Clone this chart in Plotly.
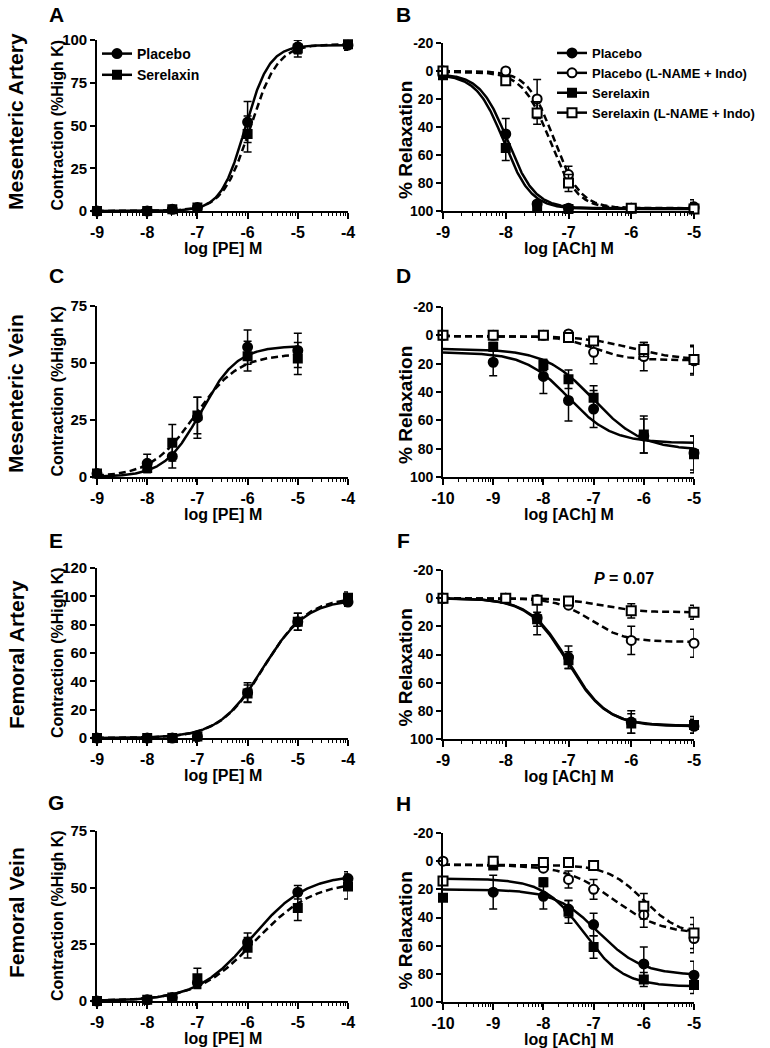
import numpy as np
import plotly.graph_objects as go

FONT = "Liberation Sans, Arial, Helvetica, sans-serif"
W, H = 770, 1048

# ---------------- data ----------------
# Panel A : Mesenteric artery, PE contraction (%High K)
A_x = [-9, -8, -7.5, -7, -6, -5, -4]
A_plc = [0, 0, 1, 2, 52, 96, 97]
A_plc_err = [0, 0, 0.5, 1, 12, 4, 3]
A_ser = [0, 0, 1, 2, 45, 95, 97.5]
A_ser_err = [0, 0, 0.5, 1, 10.5, 5, 3.5]
# fit parameters: bottom, top, logEC50, Hill slope
A_fit_plc = [0, 97, -6.05, 1.8]
A_fit_ser = [0, 97.5, -5.95, 1.6]

# Panel B : Mesenteric artery, ACh relaxation
B_x = [-9, -8, -7.5, -7, -6, -5]
B_plc = [2, 45, 95, 98, 98, 97]
B_plc_err = [1, 11, 2, 1, 1, 5]
B_plcL = [0, 0, 20, 74, 98, 98]
B_plcL_err = [1, 1, 14, 6, 1, 4]
B_ser = [3, 55, 97, 98.5, 98, 98.5]
B_ser_err = [1, 9, 1, 1, 1, 3]
B_serL = [0, 7, 30, 80, 98, 98.5]
B_serL_err = [1, 2, 8, 6, 1, 3]
B_fit_plc = [2, 98, -7.97, 2.0]
B_fit_ser = [2.5, 98.5, -8.03, 2.0]
B_fit_plcL = [0, 98, -7.23, 2.1]
B_fit_serL = [0.5, 98.5, -7.3, 2.0]

# Panel C : Mesenteric vein, PE
C_x = [-9, -8, -7.5, -7, -6, -5]
C_plc = [1.5, 6, 9, 26, 57, 55.5]
C_plc_err = [0.5, 4, 5, 9, 7.5, 7.5]
C_ser = [1.5, 4, 15, 27, 53, 52]
C_ser_err = [0.5, 2, 8, 8, 6.5, 7]
C_fit_plc = [0, 57.5, -6.93, 1.2]
C_fit_ser = [0, 54, -7.05, 1.0]

# Panel D : Mesenteric vein, ACh
D_x = [-10, -9, -8, -7.5, -7, -6, -5]
D_plc = [None, 19, 29, 46, 52, 71, 83]
D_plc_err = [None, 9.5, 12, 14.5, 13, 12, 12]
D_plcL = [0, 0, 0, -1, 12, 15, 18]
D_plcL_err = [1, 1, 1, 2, 8, 10, 10]
D_ser = [None, 8, 21, 31, 44, 70, 84]
D_ser_err = [None, 3, 4, 6.5, 8.5, 13, 13]
D_serL = [0, 0, 0, 1.5, 4, 10, 17]
D_serL_err = [1, 1, 1, 1, 2, 5, 10]
D_fit_plc = [12, 76, -7.5, 1.0]
D_fit_ser = [9.5, 81, -7.0, 0.9]
D_fit_plcL = [0.5, 17.5, -7.0, 1.3]
D_fit_serL = [0.5, 17.5, -6.25, 0.9]

# Panel E : Femoral artery, PE
E_x = [-9, -8, -7.5, -7, -6, -5, -4]
E_plc = [0, 0, 0, 1, 32, 82, 96]
E_plc_err = [0, 0, 0, 0.5, 7, 6, 3]
E_ser = [0, 0, 0, 1, 31.5, 82, 99]
E_ser_err = [0, 0, 0, 0.5, 6, 6, 4]
E_fit_plc = [0, 98, -5.7, 1.0]
E_fit_ser = [0, 99.5, -5.68, 1.0]

# Panel F : Femoral artery, ACh
F_x = [-9, -8, -7.5, -7, -6, -5]
F_plc = [0, 0, 14, 42, 88, 91]
F_plc_err = [0.5, 0.5, 12, 8, 8, 5]
F_plcL = [0, 0, 1, 5, 30, 32]
F_plcL_err = [0.5, 0.5, 1, 2, 10, 10]
F_ser = [0, 0, 15, 44, 89, 90]
F_ser_err = [0.5, 0.5, 5, 6, 7, 6]
F_serL = [0, 0, 1.5, 2, 9, 10]
F_serL_err = [0.5, 0.5, 1, 1, 5, 5]
F_fit_plc = [0, 91, -7.0, 1.4]
F_fit_ser = [0, 90.5, -7.02, 1.4]
F_fit_plcL = [0, 31, -6.65, 1.6]
F_fit_serL = [0, 10, -6.5, 1.5]

# Panel G : Femoral vein, PE
G_x = [-9, -8, -7.5, -7, -6, -5, -4]
G_plc = [0, 0.5, 1.5, 8, 26, 48, 54]
G_plc_err = [0.3, 0.3, 0.5, 2, 4, 3, 3]
G_ser = [0, 0.5, 1.5, 10, 23.5, 41, 50.5]
G_ser_err = [0.3, 0.3, 0.5, 4.5, 4.5, 5.5, 5.5]
G_fit_plc = [0, 56, -5.92, 0.8]
G_fit_ser = [0, 53, -5.85, 0.75]

# Panel H : Femoral vein, ACh
H_x = [-10, -9, -8, -7.5, -7, -6, -5]
H_plc = [None, 22, 25, 34, 45, 73, 81]
H_plc_err = [None, 12, 9, 6, 8, 12, 10]
H_plcL = [0, 1, 5, 13, 20, 38, 55]
H_plcL_err = [1, 1, 2, 6, 7, 9, 10]
H_ser = [26, 3, 15, 36, 61, 84, 88]
H_ser_err = [2, 1, 3, 8, 8, 5, 6]
H_serL = [14, 0, 1, 1, 3, 32, 51]
H_serL_err = [3, 1, 1, 1, 2, 9, 11]
H_fit_plc = [20, 81, -6.9, 1.0]
H_fit_ser = [12.5, 89, -7.2, 1.1]
H_fit_plcL = [2.5, 52, -6.6, 0.9]
H_fit_serL = [2.5, 53, -6.0, 1.2]

# axis ticks / labels
PE_xticks = [-9, -8, -7, -6, -5, -4]
ACh9_xticks = [-9, -8, -7, -6, -5]
ACh10_xticks = [-10, -9, -8, -7, -6, -5]
Y100_ticks = [0, 25, 50, 75, 100]
Y75_ticks = [0, 25, 50, 75]
Y120_ticks = [0, 20, 40, 60, 80, 100, 120]
REL_ticks = [-20, 0, 20, 40, 60, 80, 100]

row_labels = ["Mesenteric Artery", "Mesenteric Vein", "Femoral Artery", "Femoral Vein"]
legend_names = {"plc": "Placebo", "plcL": "Placebo (L-NAME + Indo)",
                "ser": "Serelaxin", "serL": "Serelaxin (L-NAME + Indo)"}

# ---------------- styling ----------------
STY = {
    "plc": dict(symbol="circle", size=9, color="black"),
    "ser": dict(symbol="square", size=8, color="black"),
    "plcL": dict(symbol="circle", size=9, color="white"),
    "serL": dict(symbol="square", size=9, color="white"),
}
LW = 2.5
DASH = "7px,4px"


def fx(px):
    return px / W


def fy(py):
    return 1 - py / H


# pixel layout: (left, right), (top, bottom)
LX = (97, 348)
RX = (443, 694)
panels = [
    dict(letter="A", x=A_x, xticks=PE_xticks, xr=(-9, -4), yr=(0, 100), yticks=Y100_ticks,
         series=[("plc", A_plc, A_plc_err, A_fit_plc, "solid"), ("ser", A_ser, A_ser_err, A_fit_ser, DASH)],
         px=LX, py=(40, 211), xt="log [PE] M", yt="Contraction (%High K)", crv=(-9, -4), ly=15),
    dict(letter="B", x=B_x, xticks=ACh9_xticks, xr=(-9, -5), yr=(100, -20), yticks=REL_ticks,
         series=[("plc", B_plc, B_plc_err, B_fit_plc, "solid"), ("ser", B_ser, B_ser_err, B_fit_ser, "solid"),
                 ("plcL", B_plcL, B_plcL_err, B_fit_plcL, DASH), ("serL", B_serL, B_serL_err, B_fit_serL, DASH)],
         px=RX, py=(43, 211), xt="log [ACh] M", yt="% Relaxation", crv=(-9, -5), ly=15),
    dict(letter="C", x=C_x, xticks=PE_xticks, xr=(-9, -4), yr=(0, 75), yticks=Y75_ticks,
         series=[("plc", C_plc, C_plc_err, C_fit_plc, "solid"), ("ser", C_ser, C_ser_err, C_fit_ser, DASH)],
         px=LX, py=(306, 477), xt="log [PE] M", yt="Contraction (%High K)", crv=(-9, -5), ly=276),
    dict(letter="D", x=D_x, xticks=ACh10_xticks, xr=(-10, -5), yr=(100, -20), yticks=REL_ticks,
         series=[("plc", D_plc, D_plc_err, D_fit_plc, "solid"), ("ser", D_ser, D_ser_err, D_fit_ser, "solid"),
                 ("plcL", D_plcL, D_plcL_err, D_fit_plcL, DASH), ("serL", D_serL, D_serL_err, D_fit_serL, DASH)],
         px=RX, py=(307, 477), xt="log [ACh] M", yt="% Relaxation", crv=(-10, -5), ly=276),
    dict(letter="E", x=E_x, xticks=PE_xticks, xr=(-9, -4), yr=(0, 120), yticks=Y120_ticks,
         series=[("plc", E_plc, E_plc_err, E_fit_plc, "solid"), ("ser", E_ser, E_ser_err, E_fit_ser, DASH)],
         px=LX, py=(568, 738), xt="log [PE] M", yt="Contraction (%High K)", crv=(-9, -4), ly=540),
    dict(letter="F", x=F_x, xticks=ACh9_xticks, xr=(-9, -5), yr=(100, -20), yticks=REL_ticks,
         series=[("plc", F_plc, F_plc_err, F_fit_plc, "solid"), ("ser", F_ser, F_ser_err, F_fit_ser, "solid"),
                 ("plcL", F_plcL, F_plcL_err, F_fit_plcL, DASH), ("serL", F_serL, F_serL_err, F_fit_serL, DASH)],
         px=RX, py=(570, 739), xt="log [ACh] M", yt="% Relaxation", crv=(-9, -5), ly=540),
    dict(letter="G", x=G_x, xticks=PE_xticks, xr=(-9, -4), yr=(0, 75), yticks=Y75_ticks,
         series=[("plc", G_plc, G_plc_err, G_fit_plc, "solid"), ("ser", G_ser, G_ser_err, G_fit_ser, DASH)],
         px=LX, py=(831, 1001), xt="log [PE] M", yt="Contraction (%High K)", crv=(-9, -4), ly=802),
    dict(letter="H", x=H_x, xticks=ACh10_xticks, xr=(-10, -5), yr=(100, -20), yticks=REL_ticks,
         series=[("plc", H_plc, H_plc_err, H_fit_plc, "solid"), ("ser", H_ser, H_ser_err, H_fit_ser, "solid"),
                 ("plcL", H_plcL, H_plcL_err, H_fit_plcL, DASH), ("serL", H_serL, H_serL_err, H_fit_serL, DASH)],
         px=RX, py=(833, 1002), xt="log [ACh] M", yt="% Relaxation", crv=(-10, -5), ly=803),
]


def hill_curve(lo, hi, p):
    xs = np.linspace(lo, hi, 400)
    b, t, ec, h = p
    return xs, b + (t - b) / (1 + 10 ** ((ec - xs) * h))


def minor_vals(lo, hi):
    vals = []
    for d in range(int(lo), int(hi)):
        for k in range(2, 10):
            vals.append(d + np.log10(k))
    return vals


fig = go.Figure()
annotations = []
layout_axes = {}

for i, p in enumerate(panels, start=1):
    xa, ya = f"x{i}", f"y{i}"
    for key, ys, errs, fit, dash in p["series"]:
        cx, cy = hill_curve(p["crv"][0], p["crv"][1], fit)
        fig.add_trace(go.Scatter(x=cx, y=cy, mode="lines", xaxis=xa, yaxis=ya, showlegend=False,
                                 line=dict(color="black", width=LW, dash=dash), hoverinfo="skip"))
    order = sorted(p["series"], key=lambda s: s[0].endswith("L"))
    for key, ys, errs, fit, dash in order:
        xx = [x for x, y in zip(p["x"], ys) if y is not None]
        yy = [y for y in ys if y is not None]
        ee = [e for e, y in zip(errs, ys) if y is not None]
        st = STY[key]
        fig.add_trace(go.Scatter(
            x=xx, y=yy, mode="markers", xaxis=xa, yaxis=ya, showlegend=False, cliponaxis=False,
            marker=dict(symbol=st["symbol"], size=st["size"], color=st["color"],
                        line=dict(color="black", width=2)),
            error_y=dict(type="data", array=ee, visible=True, color="black", thickness=1.5, width=4),
        ))
    suffix = "" if i == 1 else str(i)
    x0, x1 = p["px"]
    t0, b0 = p["py"]
    left = x0 < 200
    layout_axes["xaxis" + suffix] = dict(
        domain=[fx(x0), fx(x1)], range=list(p["xr"]), anchor=ya, automargin=False,
        tickmode="array", tickvals=p["xticks"], ticktext=[str(v) for v in p["xticks"]],
        showline=True, linecolor="black", linewidth=1.6, ticks="outside", ticklen=6, tickwidth=1.6,
        tickcolor="black", showgrid=False, zeroline=False,
        tickfont=dict(family=FONT, size=16, color="black", weight="bold"),
        minor=dict(tickmode="array", tickvals=minor_vals(p["xr"][0], p["xr"][1]), ticks="outside",
                   ticklen=3.5, tickwidth=1.2, tickcolor="black", showgrid=False),
    )
    layout_axes["yaxis" + suffix] = dict(
        domain=[fy(b0), fy(t0)], range=list(p["yr"]), anchor=xa, automargin=False,
        tickmode="array", tickvals=p["yticks"], ticktext=[str(v) for v in p["yticks"]],
        showline=True, linecolor="black", linewidth=1.6, ticks="outside", ticklen=5, tickwidth=1.6,
        tickcolor="black", showgrid=False, zeroline=False,
        tickfont=dict(family=FONT, size=15 if left else 14, color="black", weight="bold"),
    )
    annotations.append(dict(text=f"<b>{p['letter']}</b>", x=fx(56 if left else 404), y=fy(p["ly"]),
                            xref="paper", yref="paper", showarrow=False, xanchor="center", yanchor="middle",
                            font=dict(family=FONT, size=21, color="black")))
    annotations.append(dict(text=f"<b>{p['xt']}</b>", x=fx((x0 + x1) / 2), y=fy(b0 + 37),
                            xref="paper", yref="paper", showarrow=False, xanchor="center", yanchor="middle",
                            font=dict(family=FONT, size=16, color="black")))
    if left:
        annotations.append(dict(text=f"<b>{p['yt']}</b>", x=fx(57), y=fy((t0 + b0) / 2),
                                xref="paper", yref="paper", showarrow=False, textangle=-90,
                                xanchor="center", yanchor="middle",
                                font=dict(family=FONT, size=16, color="black")))
    else:
        annotations.append(dict(text=f"<b>{p['yt']}</b>", x=fx(405), y=fy((t0 + b0) / 2 + 13),
                                xref="paper", yref="paper", showarrow=False, textangle=-90,
                                xanchor="center", yanchor="middle",
                                font=dict(family=FONT, size=19, color="black")))

for lab, yc in zip(row_labels, [122, 394, 655, 913]):
    annotations.append(dict(text=f"<b>{lab}</b>", x=fx(16), y=fy(yc), xref="paper", yref="paper",
                            showarrow=False, textangle=-90, xanchor="center", yanchor="middle",
                            font=dict(family=FONT, size=21, color="black")))

annotations.append(dict(text="<b><i>P</i> = 0.07</b>", x=fx(624), y=fy(578), xref="paper", yref="paper",
                        showarrow=False, xanchor="center", yanchor="middle",
                        font=dict(family=FONT, size=16, color="black")))

# legend-only traces
for key in ["plc", "ser"]:
    st = STY[key]
    fig.add_trace(go.Scatter(x=[None], y=[None], mode="lines+markers", xaxis="x1", yaxis="y1",
                             name=legend_names[key], legend="legend",
                             line=dict(color="black", width=LW),
                             marker=dict(symbol=st["symbol"], size=st["size"], color=st["color"],
                                         line=dict(color="black", width=2))))
for key in ["plc", "plcL", "ser", "serL"]:
    st = STY[key]
    fig.add_trace(go.Scatter(x=[None], y=[None], mode="lines+markers", xaxis="x2", yaxis="y2",
                             name=legend_names[key], legend="legend2",
                             line=dict(color="black", width=LW),
                             marker=dict(symbol=st["symbol"], size=st["size"], color=st["color"],
                                         line=dict(color="black", width=2))))

fig.update_layout(
    width=W, height=H, margin=dict(l=0, r=0, t=0, b=0, pad=0, autoexpand=False),
    paper_bgcolor="white", plot_bgcolor="white",
    font=dict(family=FONT, color="black"),
    annotations=annotations,
    hovermode=False,
    legend=dict(x=fx(97), y=fy(38), xanchor="left", yanchor="top", bgcolor="rgba(0,0,0,0)",
                font=dict(family=FONT, size=14, color="black", weight="bold"), itemwidth=30,
                tracegroupgap=0),
    legend2=dict(x=fx(552), y=fy(38), xanchor="left", yanchor="top", bgcolor="rgba(0,0,0,0)",
                 font=dict(family=FONT, size=13, color="black", weight="bold"), itemwidth=30,
                 tracegroupgap=0),
    **layout_axes,
)

# remove the browser's default 8px page margin so the 770x1048 figure fills the window exactly
fig.write_html("out.html", config={"displayModeBar": False},
               post_script="document.body.style.margin='0px';")
